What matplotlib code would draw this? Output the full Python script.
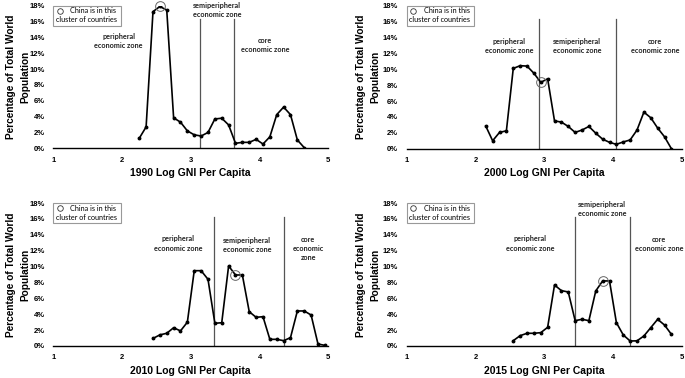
import matplotlib
matplotlib.use("Agg")
import matplotlib.pyplot as plt
from matplotlib.patches import Rectangle

# ---------------- data ----------------
x1990 = [2.25, 2.35, 2.45, 2.55, 2.65, 2.75, 2.85, 2.95, 3.05, 3.15, 3.25, 3.35, 3.45,
         3.55, 3.65, 3.75, 3.85, 3.95, 4.05, 4.15, 4.25, 4.35, 4.45, 4.55, 4.65]
y1990 = [1.26, 2.7, 17.25, 17.9, 17.45, 3.85, 3.3, 2.2, 1.7, 1.55, 2.0, 3.7, 3.8,
         2.95, 0.63, 0.75, 0.75, 1.13, 0.54, 1.45, 4.25, 5.2, 4.25, 1.05, 0.08]

x2000 = [2.15, 2.25, 2.35, 2.45, 2.55, 2.65, 2.75, 2.85, 2.95, 3.05, 3.15, 3.25, 3.35,
         3.45, 3.55, 3.65, 3.75, 3.85, 3.95, 4.05, 4.15, 4.25, 4.35, 4.45, 4.55, 4.65,
         4.75, 4.85]
y2000 = [2.85, 1.0, 2.05, 2.25, 10.1, 10.45, 10.4, 9.5, 8.35, 8.8, 3.5, 3.35, 2.8,
         2.05, 2.35, 2.8, 1.95, 1.2, 0.8, 0.55, 0.85, 1.1, 2.35, 4.6, 3.9, 2.6,
         1.5, 0.0]

x2010 = [2.45, 2.55, 2.65, 2.75, 2.85, 2.95, 3.05, 3.15, 3.25, 3.35, 3.45, 3.55, 3.65,
         3.75, 3.85, 3.95, 4.05, 4.15, 4.25, 4.35, 4.45, 4.55, 4.65, 4.75, 4.85, 4.95]
y2010 = [0.95, 1.4, 1.6, 2.3, 1.9, 3.0, 9.48, 9.48, 8.4, 2.86, 2.93, 10.08, 8.94,
         8.94, 4.32, 3.61, 3.69, 0.84, 0.84, 0.67, 1.05, 4.41, 4.41, 3.9, 0.25, 0.08]

x2015 = [2.55, 2.65, 2.75, 2.85, 2.95, 3.05, 3.15, 3.25, 3.35, 3.45, 3.55, 3.65, 3.75,
         3.85, 3.95, 4.05, 4.15, 4.25, 4.35, 4.45, 4.55, 4.65, 4.75, 4.85]
y2015 = [0.67, 1.3, 1.6, 1.6, 1.68, 2.35, 7.68, 6.97, 6.8, 3.19, 3.36, 3.19, 6.93,
         8.19, 8.19, 2.94, 1.39, 0.63, 0.65, 1.26, 2.31, 3.36, 2.64, 1.47]

years = ["1990", "2000", "2010", "2015"]
china_x = [2.55, 2.95, 3.65, 3.85]
china_y = [17.9, 8.35, 8.94, 8.19]
zone_bounds = [[3.135, 3.63], [2.93, 4.04], [3.34, 4.35], [3.45, 4.25]]

zone_names = ["peripheral\neconomic zone", "semiperipheral\neconomic zone", "core\neconomic zone"]
core_2010 = "core\neconomic\nzone"

label_pos = [
    [(1.95, 13.5), (3.38, 17.5), (4.08, 13.0)],
    [(2.49, 12.9), (3.48, 12.9), (4.61, 12.9)],
    [(2.82, 12.9), (3.82, 12.7), (4.71, 12.3)],
    [(2.79, 12.9), (3.84, 17.25), (4.67, 12.85)],
]

xs = [x1990, x2000, x2010, x2015]
ys = [y1990, y2000, y2010, y2015]

yticks = [0, 2, 4, 6, 8, 10, 12, 14, 16, 18]
xticks = [1, 2, 3, 4, 5]

# ---------------- figure ----------------
W, H = 685, 378
fig = plt.figure(figsize=(W / 100, H / 100), dpi=100)

axes_px = [  # left, top, right, bottom in pixels
    (53.3, 5.7, 328.3, 148.3),
    (406.7, 5.7, 681.7, 148.7),
    (53.3, 203.0, 328.3, 346.0),
    (406.7, 203.0, 681.7, 346.0),
]
ylabel_x = [-0.128, -0.14, -0.128, -0.14]

lab_font = "Liberation Sans"
ann_font = "Lato"

for i in range(4):
    l, t, r, b = axes_px[i]
    ax = fig.add_axes([l / W, 1 - b / H, (r - l) / W, (b - t) / H])
    ax.set_xlim(1, 5)
    ax.set_ylim(0, 18)
    for s in ["top", "right", "left"]:
        ax.spines[s].set_visible(False)
    ax.spines["bottom"].set_linewidth(1.0)
    ax.spines["bottom"].set_color("black")

    ax.set_yticks(yticks)
    ax.set_yticklabels([f"{v}%" for v in yticks], fontsize=5.5, fontweight="bold",
                       family=lab_font)
    ax.set_xticks(xticks)
    ax.set_xticklabels([str(v) for v in xticks], fontsize=5.5, fontweight="bold",
                       family=lab_font)
    ax.tick_params(axis="both", length=0)
    ax.tick_params(axis="y", pad=6)
    ax.tick_params(axis="x", pad=6)

    ax.set_xlabel(f"{years[i]} Log GNI Per Capita", fontsize=7.5, fontweight="bold",
                  family=lab_font, va="center")
    ax.xaxis.set_label_coords(0.5, -0.173)
    ax.set_ylabel("Percentage of Total World\nPopulation", fontsize=7.3,
                  fontweight="bold", family=lab_font, linespacing=1.55, va="center")
    ax.yaxis.set_label_coords(ylabel_x[i], 0.5)

    # zone boundaries
    for xb in zone_bounds[i]:
        ax.plot([xb, xb], [0, 16.3], color="#555555", lw=0.9, zorder=2)

    # data
    ax.plot(xs[i], ys[i], color="black", lw=1.2, marker="o", markersize=1.8, zorder=3)

    # China marker
    ax.plot([china_x[i]], [china_y[i]], marker="o", markersize=7, mfc="none",
            mec="#666666", mew=0.7, zorder=4, clip_on=False)

    # zone labels
    for j in range(3):
        txt = zone_names[j]
        if i == 2 and j == 2:
            txt = core_2010
        px, py = label_pos[i][j]
        ax.text(px, py, txt, ha="center", va="center", fontsize=5.2,
                fontweight="bold", family=ann_font, linespacing=1.35, color="#222222")

    # legend box
    bw = 0.245
    bh = 0.14
    ax.add_patch(Rectangle((0.0, 1.0 - bh), bw, bh, transform=ax.transAxes,
                           facecolor="white", edgecolor="#999999", lw=0.8,
                           clip_on=False, zorder=5))
    ax.plot([0.024], [0.963], marker="o", markersize=4, mfc="white", mec="#333333",
            mew=0.6, transform=ax.transAxes, clip_on=False, zorder=6)
    ax.text(0.062, 0.963, "China is in this", transform=ax.transAxes, ha="left",
            va="center", fontsize=5.2, family=ann_font, zorder=6)
    ax.text(0.008, 0.90, "cluster of countries", transform=ax.transAxes, ha="left",
            va="center", fontsize=5.2, family=ann_font, zorder=6)

fig.savefig("out.png", dpi=100)
